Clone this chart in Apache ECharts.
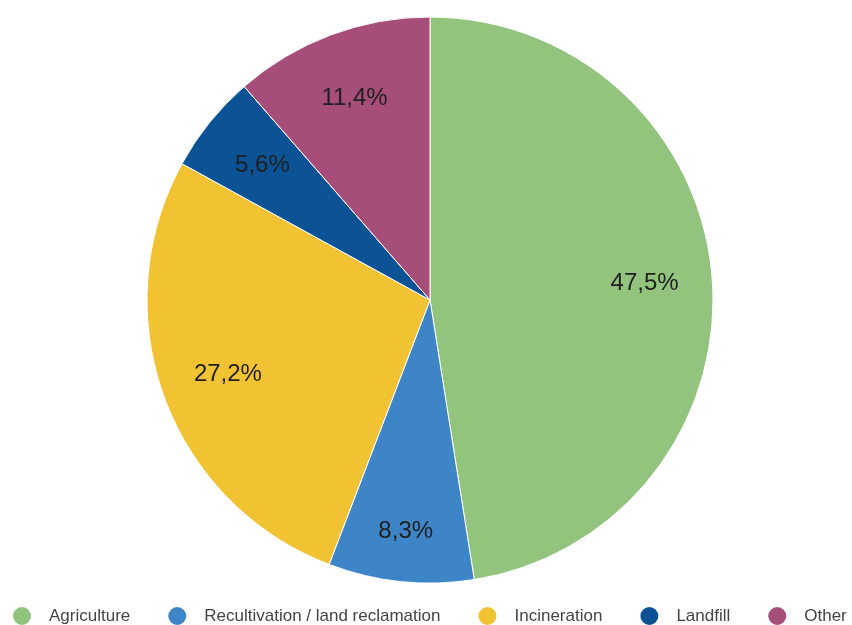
<!DOCTYPE html>
<html>
<head>
<meta charset="utf-8">
<script src="https://cdn.jsdelivr.net/npm/echarts@6/dist/echarts.min.js"></script>
<style>
  html, body { margin: 0; padding: 0; background: #fff; }
  #chart { width: 852px; height: 625px; }
</style>
</head>
<body>
<div id="chart"></div>
<script>
// Share of sewage sludge by disposal route (%)
const categories = ['Agriculture', 'Recultivation / land reclamation', 'Incineration', 'Landfill', 'Other'];
const shares = [47.5, 8.3, 27.2, 5.6, 11.4];
const colors = ['#93c47d', '#3d85c6', '#f1c232', '#0b5394', '#a64d79'];

const data = categories.map((name, i) => ({ name, value: shares[i] }));
const fmt = p => p.value.toFixed(1).replace('.', ',') + '%';

const center = [430, 300];
const R = 283;

// label ring data: the narrow blue slice gets its label pushed a bit further out
const labelData = data.map(d => d.name === 'Recultivation / land reclamation'
  ? Object.assign({}, d, { label: { offset: [-2, 17] } })
  : d);

const chart = echarts.init(document.getElementById('chart'), null, { renderer: 'canvas' });
chart.setOption({
  animation: false,
  color: colors,
  legend: {
    top: 605,
    left: 11,
    width: 900,
    padding: 0,
    icon: 'circle',
    itemWidth: 44,
    itemHeight: 20,
    itemGap: 36,
    data: categories,
    textStyle: { fontFamily: 'Liberation Sans, Arial, sans-serif', fontSize: 17, color: '#444' }
  },
  series: [
    {
      type: 'pie',
      center: center,
      radius: [0, R],
      startAngle: 90,
      clockwise: true,
      data: data,
      itemStyle: { borderColor: '#fff', borderWidth: 1 },
      label: { show: false },
      labelLine: { show: false },
      emphasis: { disabled: true }
    },
    {
      // label ring: places the percentages at three quarters of the radius
      type: 'pie',
      center: center,
      radius: [R * 0.5, R],
      startAngle: 90,
      clockwise: true,
      silent: true,
      data: labelData,
      itemStyle: { color: 'rgba(0,0,0,0)' },
      label: {
        show: true,
        position: 'inside',
        formatter: fmt,
        fontFamily: 'Liberation Sans, Arial, sans-serif',
        fontSize: 24,
        color: '#1f1f1f'
      },
      labelLine: { show: false },
      emphasis: { disabled: true }
    }
  ]
});
</script>
</body>
</html>
